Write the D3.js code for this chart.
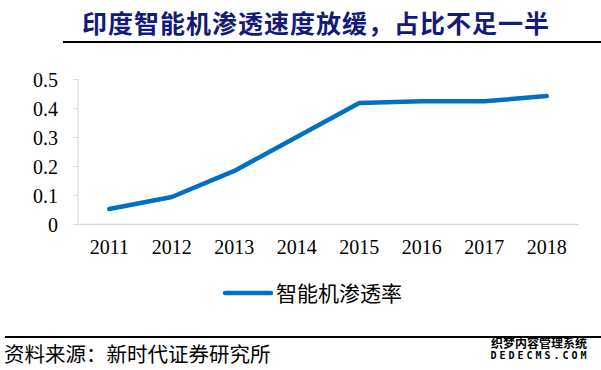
<!DOCTYPE html>
<html lang="zh">
<head>
<meta charset="utf-8">
<title>印度智能机渗透率</title>
<script src="https://d3js.org/d3.v7.min.js"></script>
<style>
  body { margin: 0; background: #fff; }
  .tick text { font-family: "Liberation Serif", "Times New Roman", serif; font-size: 20px; fill: #000; }
  .cjk { font-family: "Noto Sans CJK SC", sans-serif; }
</style>
</head>
<body>
<div id="chart"></div>
<script>
var width = 601, height = 370;

// data
var years = ["2011", "2012", "2013", "2014", "2015", "2016", "2017", "2018"];
var penetration = [0.052, 0.093, 0.183, 0.300, 0.417, 0.423, 0.423, 0.441];
var yTicks = [0, 0.1, 0.2, 0.3, 0.4, 0.5];
var seriesName = "智能机渗透率";

var svg = d3.select("#chart").append("svg")
    .attr("width", width)
    .attr("height", height);

// title + rule
svg.append("text")
    .attr("class", "cjk")
    .attr("x", 316).attr("y", 33)
    .attr("text-anchor", "middle")
    .attr("font-size", 25)
    .attr("font-weight", "bold")
    .attr("letter-spacing", 1)
    .attr("fill", "#141a78")
    .text("印度智能机渗透速度放缓，占比不足一半");

svg.append("line")
    .attr("x1", 63).attr("x2", 601)
    .attr("y1", 42).attr("y2", 42)
    .attr("stroke", "#000").attr("stroke-width", 2);

// scales
var x = d3.scaleBand().domain(years).range([78, 578]);
var y = d3.scaleLinear().domain([0, 0.5]).range([224, 79]);

// y axis
var gy = svg.append("g")
    .attr("transform", "translate(78,0)")
    .call(d3.axisLeft(y).tickValues(yTicks).tickSize(5).tickPadding(15)
        .tickFormat(function(d) { return d === 0 ? "0" : d3.format(".1f")(d); }));
gy.select(".domain").attr("stroke", "#d9d9d9").attr("d", "M0,79V224");
gy.selectAll(".tick line").attr("stroke", "#d9d9d9");
gy.selectAll(".tick text").attr("dy", "0.35em");

// x axis
var gx = svg.append("g")
    .attr("transform", "translate(0,224)")
    .call(d3.axisBottom(x).tickSize(0).tickPadding(16));
gx.select(".domain").attr("stroke", "#d9d9d9").attr("stroke-width", 1.5);

// line
var line = d3.line()
    .x(function(d, i) { return x(years[i]) + x.bandwidth() / 2; })
    .y(function(d) { return y(d); });

svg.append("path")
    .datum(penetration)
    .attr("d", line)
    .attr("fill", "none")
    .attr("stroke", "#0070c0")
    .attr("stroke-width", 4.5)
    .attr("stroke-linecap", "round")
    .attr("stroke-linejoin", "round");

// legend
svg.append("line")
    .attr("x1", 225).attr("x2", 271)
    .attr("y1", 293).attr("y2", 293)
    .attr("stroke", "#0070c0").attr("stroke-width", 4.5)
    .attr("stroke-linecap", "round");
svg.append("text")
    .attr("class", "cjk")
    .attr("x", 276).attr("y", 301)
    .attr("font-size", 21)
    .attr("fill", "#000")
    .text(seriesName);

// bottom rule + source
svg.append("line")
    .attr("x1", 5).attr("x2", 601)
    .attr("y1", 337).attr("y2", 337)
    .attr("stroke", "#000").attr("stroke-width", 2);
svg.append("text")
    .attr("class", "cjk")
    .attr("x", 4).attr("y", 362)
    .attr("font-size", 20.5)
    .attr("fill", "#000")
    .text("资料来源：新时代证券研究所");

// watermark
svg.append("text")
    .attr("class", "cjk")
    .attr("x", 539).attr("y", 348)
    .attr("text-anchor", "middle")
    .attr("font-size", 12)
    .attr("font-weight", "bold")
    .attr("fill", "#000")
    .text("织梦内容管理系统");
svg.append("text")
    .attr("x", 540).attr("y", 359)
    .attr("text-anchor", "middle")
    .attr("font-family", "DejaVu Sans Mono, monospace")
    .attr("font-size", 10)
    .attr("font-weight", "bold")
    .attr("letter-spacing", 3)
    .attr("fill", "#000")
    .text("DEDECMS.COM");
</script>
</body>
</html>
